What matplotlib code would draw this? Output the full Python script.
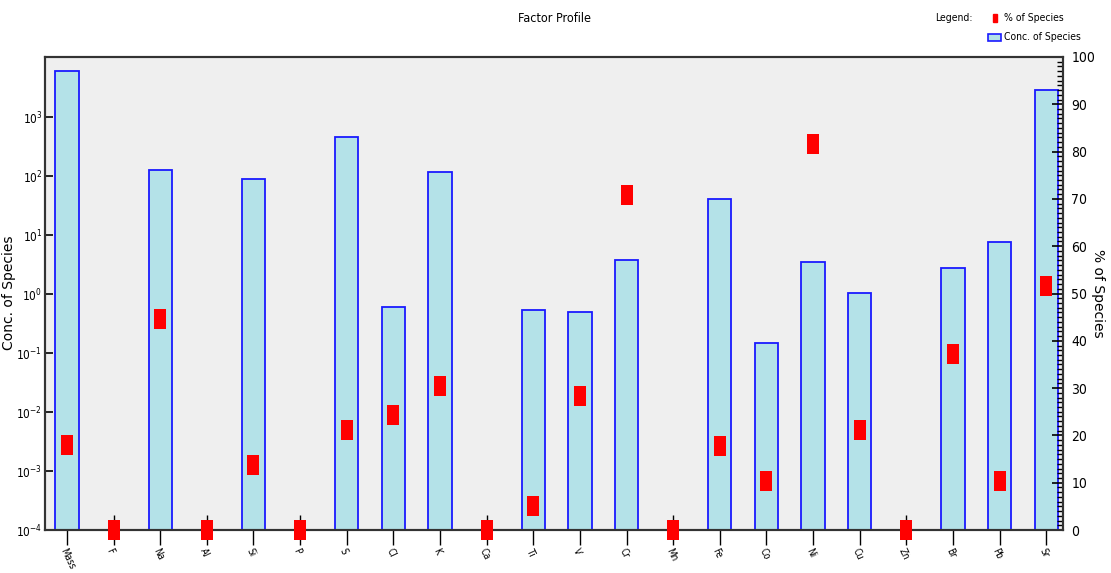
import numpy as np
import matplotlib
matplotlib.use("Agg")
import matplotlib.pyplot as plt
from matplotlib.patches import Rectangle

plt.rcParams['font.family'] = ['DejaVu Sans']
plt.rcParams['font.stretch'] = 'condensed'

species = ["Mass", "F", "Na", "Al", "Si", "P", "S", "Cl", "K", "Ca", "Ti",
           "V", "Cr", "Mn", "Fe", "Co", "Ni", "Cu", "Zn", "Br", "Pb", "Sr"]
conc = [6100, 0, 125, 0, 89, 0, 455, 0.6, 120, 0, 0.54,
        0.5, 3.8, 0, 41, 0.15, 3.5, 1.05, 0, 2.8, 7.6, 2950]
pct = [18, 0, 44.6, 0, 13.7, 0, 21.1, 24.3, 30.4, 0, 5.1,
       28.3, 70.8, 0, 17.8, 10.4, 81.6, 21.1, 0, 37.2, 10.4, 51.6]

fig = plt.figure(figsize=(11.11, 5.73), dpi=100)
ax = fig.add_axes([45/1111, 43/573, (1063-45)/1111, (530-57)/573])
ax.set_facecolor('#efefef')

x = np.arange(len(species))
conc_plot = [c if c > 0 else np.nan for c in conc]
ax.bar(x, conc_plot, width=0.5, bottom=1e-4, color='#b4e2e8',
       edgecolor='#1a1aff', linewidth=1.3, zorder=2)
ax.set_yscale('log')
ax.set_ylim(1e-4, 1.05e4)
ax.set_xlim(-0.47, len(species) - 1 + 0.36)

ax.set_yticks([1e-4, 1e-3, 1e-2, 1e-1, 1e0, 1e1, 1e2, 1e3])
ax.yaxis.set_minor_locator(matplotlib.ticker.NullLocator())
ax.tick_params(axis='y', direction='in', length=6, width=1.2, labelsize=8.5, pad=2)

ax.set_xticks(x)
ax.set_xticklabels(species, rotation=-65, ha='left', rotation_mode='anchor',
                   fontsize=7)
ax.tick_params(axis='x', direction='inout', length=22, width=1.0, pad=1)

for s in ax.spines.values():
    s.set_linewidth(1.5)
    s.set_color('#333333')

ax2 = ax.twinx()
ax2.set_ylim(0, 100)
ax2.plot(x, pct, linestyle='none',
         marker=[(-0.55, -1), (0.55, -1), (0.55, 1), (-0.55, 1)],
         markersize=15, color='#ff0000', markeredgewidth=0, clip_on=False, zorder=5)
ax2.set_yticks(np.arange(0, 101, 10))
ax2.yaxis.set_minor_locator(matplotlib.ticker.MultipleLocator(1))
ax2.tick_params(axis='y', which='major', direction='in', length=8, width=1.2,
                labelsize=10, pad=6)
ax2.tick_params(axis='y', which='minor', direction='in', length=4, width=1.0)
for s in ax2.spines.values():
    s.set_linewidth(1.5)
    s.set_color('#333333')

fig.text(9/1111, 1 - 293/573, "Conc. of Species", rotation=90, ha='center',
         va='center', fontsize=10, stretch='normal')
fig.text(1098/1111, 1 - 293/573, "% of Species", rotation=270, ha='center',
         va='center', fontsize=10, stretch='normal')

fig.text(555/1111, 1 - 18/573, "Factor Profile", ha='center', va='center', fontsize=9)

# legend
fig.text(935/1111, 1 - 18/573, "Legend:", ha='left', va='center', fontsize=7.5)
fig.add_artist(Rectangle((993/1111, 1 - 22/573), 4/1111, 8/573,
                         transform=fig.transFigure, color='#ff0000'))
fig.text(1004/1111, 1 - 18/573, "% of Species", ha='left', va='center', fontsize=7.5)
fig.add_artist(Rectangle((988/1111, 1 - 41/573), 13/1111, 7/573,
                         transform=fig.transFigure, facecolor='#b4e2e8',
                         edgecolor='#1a1aff', linewidth=1.2))
fig.text(1004/1111, 1 - 37/573, "Conc. of Species", ha='left', va='center', fontsize=7.5)

fig.savefig("out.png", dpi=100)
